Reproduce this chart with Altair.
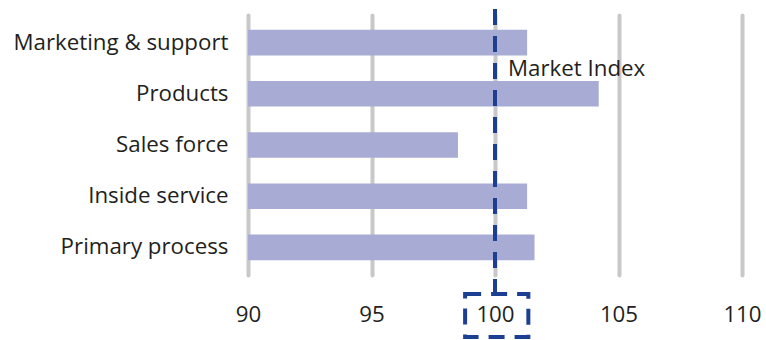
import altair as alt
import pandas as pd

# Index scores per business area (market index = 100)
areas = ["Marketing & support", "Products", "Sales force", "Inside service", "Primary process"]
scores = [101.3, 104.2, 98.5, 101.3, 101.6]
market_index = 100
x_ticks = [90, 95, 100, 105, 110]

FONT = "Open Sans"
TEXT_COLOR = "#231f20"
BAR_COLOR = "#a8abd4"
INDEX_COLOR = "#1c3f94"
FONT_SIZE = 22.3

df = pd.DataFrame({"area": areas, "score": scores})

x_scale = alt.Scale(domain=[90, 110], nice=False, zero=False)

bars = alt.Chart(df).mark_bar(color=BAR_COLOR).encode(
    x=alt.X(
        "score:Q",
        scale=x_scale,
        axis=alt.Axis(
            values=x_ticks,
            title=None,
            domain=False,
            ticks=False,
            grid=True,
            gridColor="#c8c8c8",
            gridWidth=4,
            gridCap="round",
            labelFont=FONT,
            labelFontSize=FONT_SIZE,
            labelColor=TEXT_COLOR,
            labelPadding=28,
            labelFlush=False,
            labelOverlap=False,
        ),
    ),
    x2=alt.datum(90),
    y=alt.Y(
        "area:N",
        sort=areas,
        scale=alt.Scale(paddingInner=0.5, paddingOuter=0.29),
        axis=alt.Axis(
            title=None,
            domain=False,
            ticks=False,
            labelFont=FONT,
            labelFontSize=FONT_SIZE,
            labelColor=TEXT_COLOR,
            labelPadding=20,
            labelLimit=400,
        ),
    ),
)

ref = pd.DataFrame({"index": [market_index], "label": ["Market Index"]})

index_line = alt.Chart(ref).mark_rule(
    color=INDEX_COLOR, strokeWidth=4, strokeDash=[16, 11]
).encode(
    x=alt.X("index:Q", scale=x_scale),
    y=alt.value(-6),
    y2=alt.value(279),
)

index_box = alt.Chart(ref).mark_rect(
    fill=None, fillOpacity=0, stroke=INDEX_COLOR, strokeWidth=4, strokeDash=[16, 10]
).encode(
    x=alt.datum(98.79, scale=x_scale),
    x2=alt.datum(101.35),
    y=alt.value(279),
    y2=alt.value(322),
)

index_label = alt.Chart(ref).mark_text(
    align="left", baseline="alphabetic", dx=13,
    font=FONT, fontSize=FONT_SIZE, color=TEXT_COLOR,
).encode(
    x=alt.X("index:Q", scale=x_scale),
    y=alt.value(61),
    text="label:N",
)

chart = alt.layer(bars, index_line, index_box, index_label).properties(
    width=494,
    height=260,
    autosize=alt.AutoSizeParams(type="none"),
    padding={"left": 248, "top": 15, "right": 24, "bottom": 65},
).configure_view(stroke=None)

chart.save("out.html", embed_options={"renderer": "svg", "actions": False})
